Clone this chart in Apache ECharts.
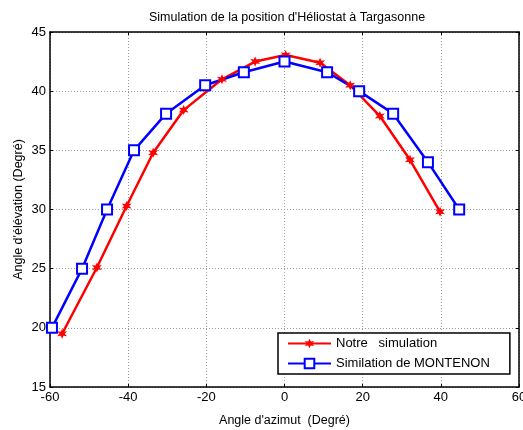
<!DOCTYPE html>
<html>
<head>
<meta charset="utf-8">
<script src="https://cdn.jsdelivr.net/npm/echarts@6/dist/echarts.min.js"></script>
<style>html,body{margin:0;padding:0;background:#fff}#c{width:523px;height:430px}</style>
</head>
<body>
<div id="c"></div>
<script>
const titleText = "Simulation de la position d'Héliostat à Targasonne";
const xName = "Angle d'azimut  (Degré)";
const yName = "Angle d'élévation (Degré)";
const seriesNames = ["Notre   simulation", "Similation de MONTENON"];
const azRed = [-56.9, -48, -40.4, -33.6, -25.8, -16, -7.5, 0.3, 9.1, 16.8, 24.4, 32.1, 39.8];
const elRed = [19.5, 25.1, 30.3, 34.8, 38.4, 41.0, 42.5, 43.05, 42.4, 40.5, 37.9, 34.2, 29.8];
const azBlue = [-59.5, -51.8, -45.4, -38.5, -30.3, -20.3, -10.4, 0, 10.9, 19.1, 27.8, 36.7, 44.7];
const elBlue = [20, 25, 30, 35, 38.1, 40.5, 41.6, 42.5, 41.6, 40, 38.1, 34, 30];
const xTicks = [-60, 60, 20];
const yTicks = [15, 45, 5];

const font = "Liberation Sans, Arial, sans-serif";
const star = 'path://M0,-10 L2.4,-4 L8.7,-5 L4.6,0 L8.7,5 L2.4,4 L0,10 L-2.4,4 L-8.7,5 L-4.6,0 L-8.7,-5 L-2.4,-4 Z';

const chart = echarts.init(document.getElementById('c'), null, {renderer: 'canvas'});
const axisLine = {show: true, onZero: false, lineStyle: {color: '#000', width: 1.5}};
const tick = {show: true, inside: true, length: 3, lineStyle: {color: '#000'}};
const split = {show: true, lineStyle: {color: '#9a9a9a', type: [1, 2], width: 1}};
chart.setOption({
  animation: false,
  backgroundColor: '#fff',
  title: {
    text: titleText, left: 282, top: 6, textAlign: 'center',
    textStyle: {fontFamily: font, fontSize: 12.5, fontWeight: 'normal', color: '#000'}
  },
  grid: {left: 50, right: 4, top: 32, bottom: 43, outerBoundsMode: 'none', containLabel: false},
  legend: {
    orient: 'vertical', left: 278, top: 333,
    padding: [4, 20, 4, 9], itemGap: 7, itemWidth: 43, itemHeight: 12,
    borderColor: '#000', borderWidth: 1.5, backgroundColor: '#fff',
    textStyle: {fontFamily: font, fontSize: 13, color: '#000'},
    data: seriesNames
  },
  xAxis: [{
    type: 'value', min: xTicks[0], max: xTicks[1], interval: xTicks[2],
    name: xName, nameLocation: 'middle', nameGap: 27, nameMoveOverlap: false,
    nameTextStyle: {fontFamily: font, fontSize: 12.5, color: '#000'},
    axisLine: axisLine, axisTick: tick, splitLine: split,
    axisLabel: {fontFamily: font, fontSize: 13, color: '#000', margin: 4}
  }, {
    type: 'value', position: 'top', min: xTicks[0], max: xTicks[1], interval: xTicks[2],
    axisLine: axisLine, axisTick: tick, splitLine: {show: false}, axisLabel: {show: false}
  }],
  yAxis: [{
    type: 'value', min: yTicks[0], max: yTicks[1], interval: yTicks[2],
    name: yName, nameLocation: 'middle', nameGap: 25, nameMoveOverlap: false,
    nameTextStyle: {fontFamily: font, fontSize: 12.5, color: '#000'},
    axisLine: axisLine, axisTick: tick, splitLine: split,
    axisLabel: {fontFamily: font, fontSize: 13, color: '#000', margin: 4}
  }, {
    type: 'value', position: 'right', min: yTicks[0], max: yTicks[1], interval: yTicks[2],
    axisLine: axisLine, axisTick: tick, splitLine: {show: false}, axisLabel: {show: false}
  }],
  series: [{
    name: seriesNames[0], type: 'line', xAxisIndex: 0, yAxisIndex: 0,
    data: azRed.map((x, i) => [x, elRed[i]]),
    symbol: star, symbolSize: 10,
    lineStyle: {color: '#ff0000', width: 2.5},
    itemStyle: {color: '#ff0000'}
  }, {
    name: seriesNames[1], type: 'line', xAxisIndex: 0, yAxisIndex: 0,
    data: azBlue.map((x, i) => [x, elBlue[i]]),
    symbol: 'rect', symbolSize: 10,
    lineStyle: {color: '#0000ff', width: 2.5},
    itemStyle: {color: '#ffffff', borderColor: '#0000ff', borderWidth: 2}
  }]
});
</script>
</body>
</html>
